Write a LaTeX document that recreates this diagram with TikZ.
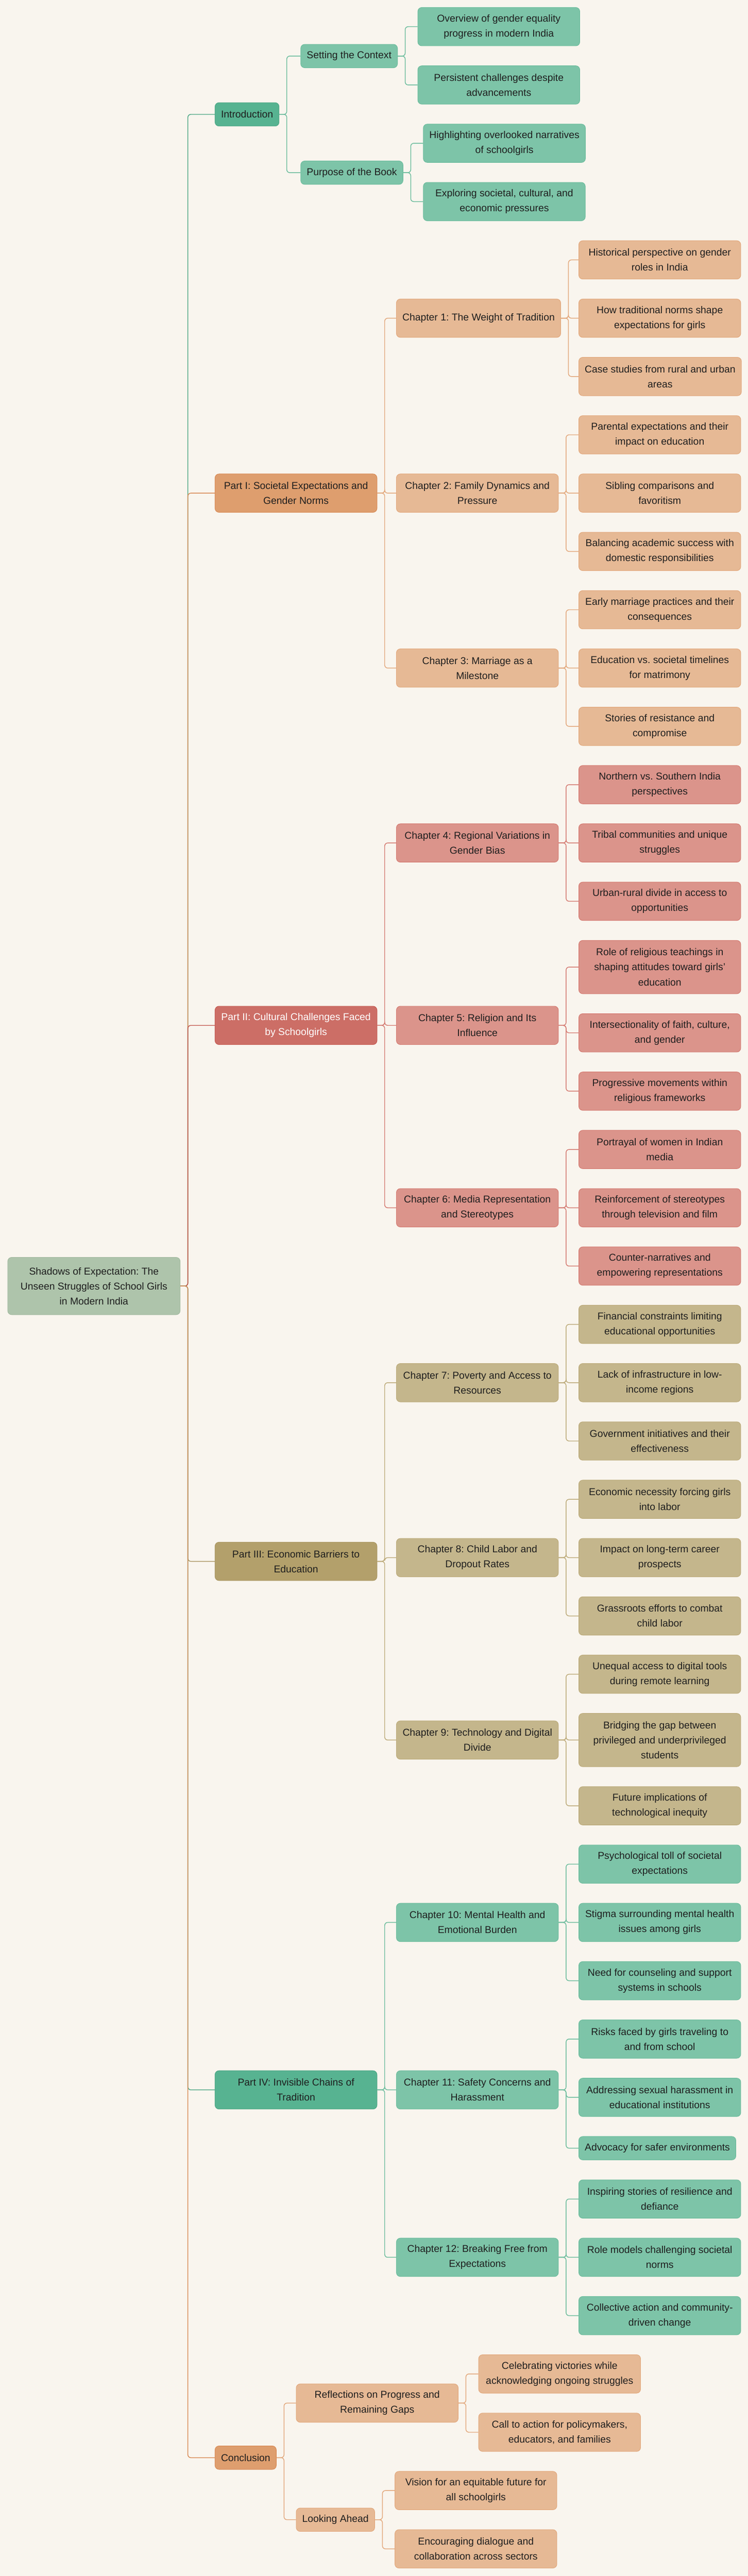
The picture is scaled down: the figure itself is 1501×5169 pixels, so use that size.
\documentclass[tikz,border=0pt]{standalone}
\usepackage{fontspec}
\setmainfont{Liberation Sans}
\usepackage{tikz}
\frenchspacing

\definecolor{paper}{HTML}{F9F5EE}
\definecolor{ink}{HTML}{1E1E1E}
\definecolor{rootfill}{HTML}{AEC4AB}
\definecolor{rootline}{HTML}{A2BA9F}
\definecolor{gdark}{HTML}{57B391}
\definecolor{gdarkline}{HTML}{4CA684}
\definecolor{glight}{HTML}{7DC4A8}
\definecolor{glightline}{HTML}{6BBC9C}
\definecolor{odark}{HTML}{DE9E6E}
\definecolor{odarkline}{HTML}{D88A55}
\definecolor{olight}{HTML}{E6B995}
\definecolor{olightline}{HTML}{E2A77B}
\definecolor{rdark}{HTML}{CC6E66}
\definecolor{rdarkline}{HTML}{C4574F}
\definecolor{rlight}{HTML}{DB948B}
\definecolor{rlightline}{HTML}{D47A71}
\definecolor{ydark}{HTML}{B3A06B}
\definecolor{ydarkline}{HTML}{AA9662}
\definecolor{ylight}{HTML}{C4B68C}
\definecolor{ylightline}{HTML}{BCAA79}

\begin{document}
\begin{tikzpicture}[x=1pt, y=-1pt,
    box/.style={rounded corners=8pt, line width=1pt, align=center, anchor=west,
      inner xsep=12pt, inner ysep=0pt, minimum height=77pt, text=ink,
      font={\fontsize{20pt}{30pt}\selectfont}},
    wide/.style={minimum width=325pt},
    tall/.style={minimum height=107pt},
    short/.style={minimum height=47pt},
    gbig/.style={box, fill=gdark, draw=gdarkline},
    gsmall/.style={box, fill=glight, draw=glightline},
    obig/.style={box, fill=odark, draw=odarkline},
    osmall/.style={box, fill=olight, draw=olightline},
    rbig/.style={box, fill=rdark, draw=rdarkline, text=white},
    rsmall/.style={box, fill=rlight, draw=rlightline},
    ybig/.style={box, fill=ydark, draw=ydarkline},
    ysmall/.style={box, fill=ylight, draw=ylightline},
    wire/.style={rounded corners=6pt, line width=1.5pt}]

  \fill[paper] (0,0) rectangle (1501,5169);
  \useasboundingbox (0,0) rectangle (1501,5169);

  % root
  \node[box, fill=rootfill, draw=rootline, minimum width=346pt, minimum height=115pt] (root) at (15,2580.5)
    {Shadows of Expectation: The\\Unseen Struggles of School Girls\\in Modern India};

  % introduction
  \node[gbig, short] (intro) at (431,229.5) {Introduction};
  \node[gsmall, short] (context) at (603,112.5) {Setting the Context};
  \node[gsmall, wide] (overview) at (838,53.5) {Overview of gender equality\\progress in modern India};
  \node[gsmall, wide] (persist) at (838,170.5) {Persistent challenges despite\\advancements};
  \node[gsmall, short] (purpose) at (603,346.5) {Purpose of the Book};
  \node[gsmall, wide] (highlight) at (849,287.5) {Highlighting overlooked narratives\\of schoolgirls};
  \node[gsmall, wide] (explore) at (849,404.5) {Exploring societal, cultural, and\\economic pressures};

  % part I
  \node[obig, wide] (partone) at (431,989.5) {Part I: Societal Expectations and\\Gender Norms};
  \node[osmall, wide] (chone) at (795,638.5) {Chapter 1: The Weight of Tradition};
  \node[osmall, wide] (history) at (1161,521.5) {Historical perspective on gender\\roles in India};
  \node[osmall, wide] (shape) at (1161,638.5) {How traditional norms shape\\expectations for girls};
  \node[osmall, wide] (cases) at (1161,755.5) {Case studies from rural and urban\\areas};
  \node[osmall, wide] (chtwo) at (795,989.5) {Chapter 2: Family Dynamics and\\Pressure};
  \node[osmall, wide] (parental) at (1161,872.5) {Parental expectations and their\\impact on education};
  \node[osmall, wide] (sibling) at (1161,989.5) {Sibling comparisons and\\favoritism};
  \node[osmall, wide] (balance) at (1161,1106.5) {Balancing academic success with\\domestic responsibilities};
  \node[osmall, wide] (chthree) at (795,1340.5) {Chapter 3: Marriage as a\\Milestone};
  \node[osmall, wide] (early) at (1161,1223.5) {Early marriage practices and their\\consequences};
  \node[osmall, wide] (timeline) at (1161,1340.5) {Education vs. societal timelines\\for matrimony};
  \node[osmall, wide] (resist) at (1161,1457.5) {Stories of resistance and\\compromise};

  % part II
  \node[rbig, wide] (parttwo) at (431,2057.5) {Part II: Cultural Challenges Faced\\by Schoolgirls};
  \node[rsmall, wide] (chfour) at (795,1691.5) {Chapter 4: Regional Variations in\\Gender Bias};
  \node[rsmall, wide] (north) at (1161,1574.5) {Northern vs. Southern India\\perspectives};
  \node[rsmall, wide] (tribal) at (1161,1691.5) {Tribal communities and unique\\struggles};
  \node[rsmall, wide] (urban) at (1161,1808.5) {Urban-rural divide in access to\\opportunities};
  \node[rsmall, wide] (chfive) at (795,2057.5) {Chapter 5: Religion and Its\\Influence};
  \node[rsmall, wide, tall] (teach) at (1161,1940.5) {Role of religious teachings in\\shaping attitudes toward girls'\\education};
  \node[rsmall, wide] (faith) at (1161,2072.5) {Intersectionality of faith, culture,\\and gender};
  \node[rsmall, wide] (progress) at (1161,2189.5) {Progressive movements within\\religious frameworks};
  \node[rsmall, wide] (chsix) at (795,2423.5) {Chapter 6: Media Representation\\and Stereotypes};
  \node[rsmall, wide] (portray) at (1161,2306.5) {Portrayal of women in Indian\\media};
  \node[rsmall, wide] (reinforce) at (1161,2423.5) {Reinforcement of stereotypes\\through television and film};
  \node[rsmall, wide] (counter) at (1161,2540.5) {Counter-narratives and\\empowering representations};

  % part III
  \node[ybig, wide] (partthree) at (431,3133) {Part III: Economic Barriers to\\Education};
  \node[ysmall, wide] (chseven) at (795,2774.5) {Chapter 7: Poverty and Access to\\Resources};
  \node[ysmall, wide] (finance) at (1161,2657.5) {Financial constraints limiting\\educational opportunities};
  \node[ysmall, wide] (infra) at (1161,2774.5) {Lack of infrastructure in low-\\income regions};
  \node[ysmall, wide] (govt) at (1161,2891.5) {Government initiatives and their\\effectiveness};
  \node[ysmall, wide] (cheight) at (795,3125.5) {Chapter 8: Child Labor and\\Dropout Rates};
  \node[ysmall, wide] (necessity) at (1161,3008.5) {Economic necessity forcing girls\\into labor};
  \node[ysmall, wide] (career) at (1161,3125.5) {Impact on long-term career\\prospects};
  \node[ysmall, wide] (grass) at (1161,3242.5) {Grassroots efforts to combat\\child labor};
  \node[ysmall, wide] (chnine) at (795,3491.5) {Chapter 9: Technology and Digital\\Divide};
  \node[ysmall, wide] (unequal) at (1161,3359.5) {Unequal access to digital tools\\during remote learning};
  \node[ysmall, wide, tall] (bridge) at (1161,3491.5) {Bridging the gap between\\privileged and underprivileged\\students};
  \node[ysmall, wide] (future) at (1161,3623.5) {Future implications of\\technological inequity};

  % part IV
  \node[gbig, wide] (partfour) at (431,4193.5) {Part IV: Invisible Chains of\\Tradition};
  \node[gsmall, wide] (chten) at (795,3857.5) {Chapter 10: Mental Health and\\Emotional Burden};
  \node[gsmall, wide] (toll) at (1161,3740.5) {Psychological toll of societal\\expectations};
  \node[gsmall, wide] (stigma) at (1161,3857.5) {Stigma surrounding mental health\\issues among girls};
  \node[gsmall, wide] (counsel) at (1161,3974.5) {Need for counseling and support\\systems in schools};
  \node[gsmall, wide] (cheleven) at (795,4193.5) {Chapter 11: Safety Concerns and\\Harassment};
  \node[gsmall, wide] (risks) at (1161,4091.5) {Risks faced by girls traveling to\\and from school};
  \node[gsmall, wide] (harass) at (1161,4208.5) {Addressing sexual harassment in\\educational institutions};
  \node[gsmall, short] (advocacy) at (1161,4310.5) {Advocacy for safer environments};
  \node[gsmall, wide] (chtwelve) at (795,4529.5) {Chapter 12: Breaking Free from\\Expectations};
  \node[gsmall, wide] (inspire) at (1161,4412.5) {Inspiring stories of resilience and\\defiance};
  \node[gsmall, wide] (models) at (1161,4529.5) {Role models challenging societal\\norms};
  \node[gsmall, wide] (collective) at (1161,4646.5) {Collective action and community-\\driven change};

  % conclusion
  \node[obig, short] (conclusion) at (431,4931.5) {Conclusion};
  \node[osmall, wide] (reflect) at (594,4822) {Reflections on Progress and\\Remaining Gaps};
  \node[osmall, wide] (victory) at (960,4763.5) {Celebrating victories while\\acknowledging ongoing struggles};
  \node[osmall, wide] (action) at (960,4880.5) {Call to action for policymakers,\\educators, and families};
  \node[osmall, short] (ahead) at (594,5056) {Looking Ahead};
  \node[osmall, wide] (vision) at (792,4997.5) {Vision for an equitable future for\\all schoolgirls};
  \node[osmall, wide] (dialogue) at (792,5114.5) {Encouraging dialogue and\\collaboration across sectors};

  % connectors
  \draw[wire, gdarkline] (root.east) -- ++(15,0) |- (intro.west);
  \draw[wire, glightline] (intro.east) -- ++(15,0) |- (context.west);
  \draw[wire, glightline] (intro.east) -- ++(15,0) |- (purpose.west);
  \draw[wire, glightline] (context.east) -- ++(15,0) |- (overview.west);
  \draw[wire, glightline] (context.east) -- ++(15,0) |- (persist.west);
  \draw[wire, glightline] (purpose.east) -- ++(15,0) |- (highlight.west);
  \draw[wire, glightline] (purpose.east) -- ++(15,0) |- (explore.west);

  \draw[wire, odarkline] (root.east) -- ++(15,0) |- (partone.west);
  \draw[wire, olightline] (partone.east) -- ++(15,0) |- (chone.west);
  \draw[wire, olightline] (partone.east) -- ++(15,0) |- (chtwo.west);
  \draw[wire, olightline] (partone.east) -- ++(15,0) |- (chthree.west);
  \draw[wire, olightline] (chone.east) -- ++(15,0) |- (history.west);
  \draw[wire, olightline] (chone.east) -- ++(15,0) |- (shape.west);
  \draw[wire, olightline] (chone.east) -- ++(15,0) |- (cases.west);
  \draw[wire, olightline] (chtwo.east) -- ++(15,0) |- (parental.west);
  \draw[wire, olightline] (chtwo.east) -- ++(15,0) |- (sibling.west);
  \draw[wire, olightline] (chtwo.east) -- ++(15,0) |- (balance.west);
  \draw[wire, olightline] (chthree.east) -- ++(15,0) |- (early.west);
  \draw[wire, olightline] (chthree.east) -- ++(15,0) |- (timeline.west);
  \draw[wire, olightline] (chthree.east) -- ++(15,0) |- (resist.west);

  \draw[wire, rdarkline] (root.east) -- ++(15,0) |- (parttwo.west);
  \draw[wire, rlightline] (parttwo.east) -- ++(15,0) |- (chfour.west);
  \draw[wire, rlightline] (parttwo.east) -- ++(15,0) |- (chfive.west);
  \draw[wire, rlightline] (parttwo.east) -- ++(15,0) |- (chsix.west);
  \draw[wire, rlightline] (chfour.east) -- ++(15,0) |- (north.west);
  \draw[wire, rlightline] (chfour.east) -- ++(15,0) |- (tribal.west);
  \draw[wire, rlightline] (chfour.east) -- ++(15,0) |- (urban.west);
  \draw[wire, rlightline] (chfive.east) -- ++(15,0) |- (teach.west);
  \draw[wire, rlightline] (chfive.east) -- ++(15,0) |- (faith.west);
  \draw[wire, rlightline] (chfive.east) -- ++(15,0) |- (progress.west);
  \draw[wire, rlightline] (chsix.east) -- ++(15,0) |- (portray.west);
  \draw[wire, rlightline] (chsix.east) -- ++(15,0) |- (reinforce.west);
  \draw[wire, rlightline] (chsix.east) -- ++(15,0) |- (counter.west);

  \draw[wire, ydarkline] (root.east) -- ++(15,0) |- (partthree.west);
  \draw[wire, ylightline] (partthree.east) -- ++(15,0) |- (chseven.west);
  \draw[wire, ylightline] (partthree.east) -- ++(15,0) |- (cheight.west);
  \draw[wire, ylightline] (partthree.east) -- ++(15,0) |- (chnine.west);
  \draw[wire, ylightline] (chseven.east) -- ++(15,0) |- (finance.west);
  \draw[wire, ylightline] (chseven.east) -- ++(15,0) |- (infra.west);
  \draw[wire, ylightline] (chseven.east) -- ++(15,0) |- (govt.west);
  \draw[wire, ylightline] (cheight.east) -- ++(15,0) |- (necessity.west);
  \draw[wire, ylightline] (cheight.east) -- ++(15,0) |- (career.west);
  \draw[wire, ylightline] (cheight.east) -- ++(15,0) |- (grass.west);
  \draw[wire, ylightline] (chnine.east) -- ++(15,0) |- (unequal.west);
  \draw[wire, ylightline] (chnine.east) -- ++(15,0) |- (bridge.west);
  \draw[wire, ylightline] (chnine.east) -- ++(15,0) |- (future.west);

  \draw[wire, gdarkline] (root.east) -- ++(15,0) |- (partfour.west);
  \draw[wire, glightline] (partfour.east) -- ++(15,0) |- (chten.west);
  \draw[wire, glightline] (partfour.east) -- ++(15,0) |- (cheleven.west);
  \draw[wire, glightline] (partfour.east) -- ++(15,0) |- (chtwelve.west);
  \draw[wire, glightline] (chten.east) -- ++(15,0) |- (toll.west);
  \draw[wire, glightline] (chten.east) -- ++(15,0) |- (stigma.west);
  \draw[wire, glightline] (chten.east) -- ++(15,0) |- (counsel.west);
  \draw[wire, glightline] (cheleven.east) -- ++(15,0) |- (risks.west);
  \draw[wire, glightline] (cheleven.east) -- ++(15,0) |- (harass.west);
  \draw[wire, glightline] (cheleven.east) -- ++(15,0) |- (advocacy.west);
  \draw[wire, glightline] (chtwelve.east) -- ++(15,0) |- (inspire.west);
  \draw[wire, glightline] (chtwelve.east) -- ++(15,0) |- (models.west);
  \draw[wire, glightline] (chtwelve.east) -- ++(15,0) |- (collective.west);

  \draw[wire, odarkline] (root.east) -- ++(15,0) |- (conclusion.west);
  \draw[wire, olightline] (conclusion.east) -- ++(15,0) |- (reflect.west);
  \draw[wire, olightline] (conclusion.east) -- ++(15,0) |- (ahead.west);
  \draw[wire, olightline] (reflect.east) -- ++(15,0) |- (victory.west);
  \draw[wire, olightline] (reflect.east) -- ++(15,0) |- (action.west);
  \draw[wire, olightline] (ahead.east) -- ++(15,0) |- (vision.west);
  \draw[wire, olightline] (ahead.east) -- ++(15,0) |- (dialogue.west);
\end{tikzpicture}
\end{document}
